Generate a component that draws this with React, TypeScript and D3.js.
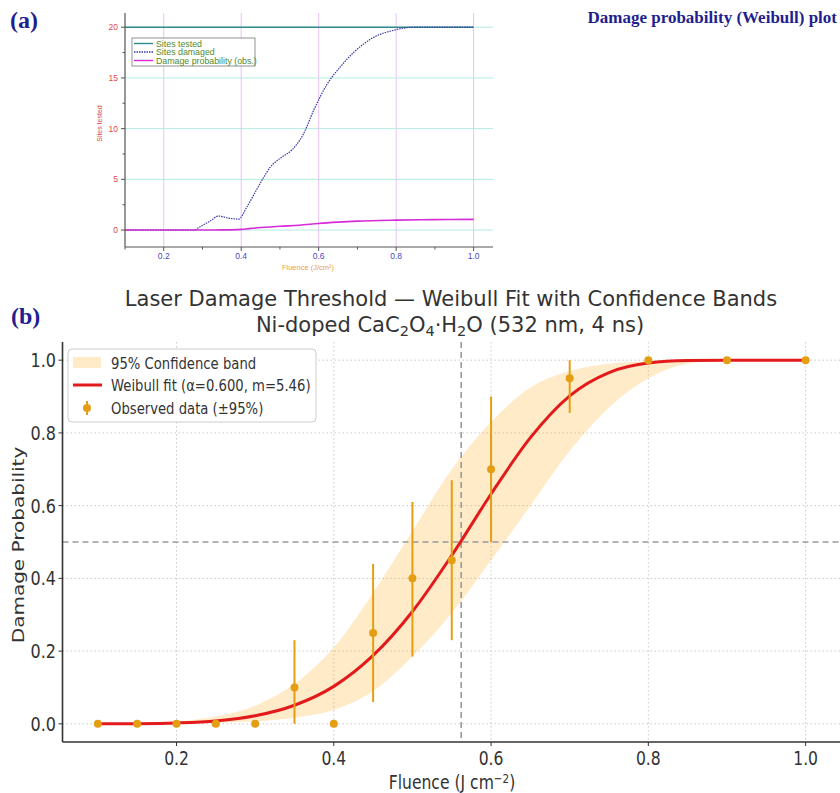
import React, { useEffect, useRef } from 'react';
import * as d3 from 'd3';

// ---------- panel (a): raw counts ----------
const testedF = [0.1, 1.0];
const testedN = [20, 20];
const damagedF = [0.1, 0.2, 0.277, 0.294, 0.32, 0.341, 0.372, 0.393, 0.415, 0.44, 0.458, 0.475, 0.505, 0.531, 0.561, 0.587, 0.622, 0.656, 0.69, 0.742, 0.794, 0.846, 0.9, 1.0];
const damagedN = [0, 0, 0, 0.33, 0.9, 1.38, 1.15, 1.08, 2.3, 4.0, 5.2, 6.2, 7.2, 7.9, 9.5, 11.8, 14.4, 16.1, 17.5, 19.0, 19.7, 20, 20, 20];
const probAF = [0.1, 0.2, 0.28, 0.35, 0.4, 0.45, 0.5, 0.55, 0.6, 0.65, 0.7, 0.8, 0.9, 1.0];
const probAV = [0, 0, 0, 0.02, 0.07, 0.25, 0.38, 0.47, 0.65, 0.78, 0.88, 0.98, 1.03, 1.05];
const aXTicks = [0.2, 0.4, 0.6, 0.8, 1.0];
const aXMinor = [0.1, 0.3, 0.5, 0.7, 0.9];
const aYTicks = [0, 5, 10, 15, 20];
const aYMinor = [2.5, 7.5, 12.5, 17.5];
const aLegend = ['Sites tested', 'Sites damaged', 'Damage probability (obs.)'];

// ---------- panel (b): Weibull fit ----------
const obsF = [0.1, 0.15, 0.2, 0.25, 0.3, 0.35, 0.4, 0.45, 0.5, 0.55, 0.6, 0.7, 0.8, 0.9, 1.0];
const obsP = [0, 0, 0, 0, 0, 0.1, 0, 0.25, 0.4, 0.45, 0.7, 0.95, 1.0, 1.0, 1.0];
const obsLo = [0, 0, 0, 0, 0, 0.0, 0, 0.06, 0.185, 0.23, 0.5, 0.855, 1.0, 1.0, 1.0];
const obsHi = [0, 0, 0, 0, 0, 0.23, 0, 0.44, 0.61, 0.67, 0.9, 1.0, 1.0, 1.0, 1.0];
const fitF = [0.1, 0.15, 0.2, 0.25, 0.3, 0.35, 0.4, 0.45, 0.5, 0.55, 0.6, 0.65, 0.7, 0.75, 0.8, 0.85, 0.9, 0.95, 1.0];
const fitP = [0.0, 0.0005, 0.0025, 0.008, 0.022, 0.051, 0.103, 0.188, 0.309, 0.463, 0.632, 0.787, 0.902, 0.966, 0.992, 0.999, 1.0, 1.0, 1.0];
const bandLo = [0, 0, 0.0005, 0.002, 0.007, 0.017, 0.038, 0.09, 0.185, 0.305, 0.45, 0.6, 0.75, 0.87, 0.95, 0.99, 0.999, 1.0, 1.0];
const bandHi = [0.0005, 0.002, 0.007, 0.02, 0.05, 0.11, 0.21, 0.36, 0.53, 0.7, 0.83, 0.925, 0.97, 0.99, 0.997, 1.0, 1.0, 1.0, 1.0];
const bXTicks = [0.2, 0.4, 0.6, 0.8, 1.0];
const bYTicks = [0, 0.2, 0.4, 0.6, 0.8, 1.0];
const thresholdF = 0.562;
const halfP = 0.5;
const bLegend = ['95% Confidence band', 'Weibull fit (α=0.600, m=5.46)', 'Observed data (±95%)'];

const SQ = 0.8; // panel (b) text is horizontally narrow in the source
const NAVY = '#1f1f8f';
const ORANGE = '#e49e14';
const RED = '#e31a1c';
const INK = '#333333';

export default function App() {
  const svgRef = useRef<SVGSVGElement>(null);

  useEffect(() => {
    const svg = d3.select(svgRef.current);
    svg.selectAll('*').remove();

    svg.append('rect').attr('width', 840).attr('height', 793).attr('fill', 'white');

    // panel tags and caption
    svg.append('text').attr('x', 10).attr('y', 28)
      .attr('font-family', 'Liberation Serif').attr('font-weight', 'bold')
      .attr('font-size', 24).attr('fill', NAVY).text('(a)');
    svg.append('text').attr('x', 11).attr('y', 324)
      .attr('font-family', 'Liberation Serif').attr('font-weight', 'bold')
      .attr('font-size', 24).attr('fill', NAVY).text('(b)');
    svg.append('text').attr('x', 837).attr('y', 23).attr('text-anchor', 'end')
      .attr('font-family', 'Liberation Serif').attr('font-weight', 'bold')
      .attr('font-size', 17).attr('fill', NAVY).text('Damage probability (Weibull) plot');

    // ================= panel (a) =================
    const ga = svg.append('g').attr('font-family', 'Liberation Sans');
    const xa = d3.scaleLinear().domain([0.1, 1.05]).range([125, 493]);
    const ya = d3.scaleLinear().domain([-1.67, 21.4]).range([247, 13]);

    // grid
    ga.selectAll('.hg').data(aYTicks).join('line')
      .attr('x1', xa(0.1)).attr('x2', xa(1.05))
      .attr('y1', d => ya(d)).attr('y2', d => ya(d))
      .attr('stroke', '#b3ece2').attr('stroke-width', 1);
    ga.selectAll('.vg').data(aXTicks).join('line')
      .attr('x1', d => xa(d)).attr('x2', d => xa(d))
      .attr('y1', ya(21.4)).attr('y2', ya(-1.67))
      .attr('stroke', '#eac2f4').attr('stroke-width', 1);

    // curves
    const lineA = (fs: number[], vs: number[]) =>
      d3.line<number>().x(i => xa(fs[i])).y(i => ya(vs[i])).curve(d3.curveMonotoneX)(d3.range(fs.length));

    ga.append('path').attr('d', lineA(testedF, testedN))
      .attr('fill', 'none').attr('stroke', '#2f8c8a').attr('stroke-width', 1.6);
    ga.append('path').attr('d', lineA(damagedF, damagedN))
      .attr('fill', 'none').attr('stroke', '#3a3aa8').attr('stroke-width', 1.2)
      .attr('stroke-dasharray', '1.5,1');
    ga.append('path').attr('d', lineA(probAF, probAV))
      .attr('fill', 'none').attr('stroke', '#d62bd6').attr('stroke-width', 1.6);

    // axes
    ga.append('line').attr('x1', xa(0.1)).attr('x2', xa(0.1)).attr('y1', ya(21.4)).attr('y2', ya(-1.67))
      .attr('stroke', '#555').attr('stroke-width', 1.2);
    ga.append('line').attr('x1', xa(0.1)).attr('x2', xa(1.05)).attr('y1', ya(-1.67)).attr('y2', ya(-1.67))
      .attr('stroke', '#555').attr('stroke-width', 1.2);
    ga.selectAll('.yt').data(aYTicks).join('line')
      .attr('x1', xa(0.1) - 4).attr('x2', xa(0.1)).attr('y1', d => ya(d)).attr('y2', d => ya(d))
      .attr('stroke', '#555');
    ga.selectAll('.ytm').data(aYMinor).join('line')
      .attr('x1', xa(0.1) - 2.5).attr('x2', xa(0.1)).attr('y1', d => ya(d)).attr('y2', d => ya(d))
      .attr('stroke', '#555');
    ga.selectAll('.xt').data(aXTicks).join('line')
      .attr('x1', d => xa(d)).attr('x2', d => xa(d)).attr('y1', ya(-1.67)).attr('y2', ya(-1.67) + 4)
      .attr('stroke', '#555');
    ga.selectAll('.xtm').data(aXMinor).join('line')
      .attr('x1', d => xa(d)).attr('x2', d => xa(d)).attr('y1', ya(-1.67)).attr('y2', ya(-1.67) + 2.5)
      .attr('stroke', '#555');

    ga.selectAll('.ytl').data(aYTicks).join('text')
      .attr('x', xa(0.1) - 7).attr('y', d => ya(d) + 3).attr('text-anchor', 'end')
      .attr('font-size', 8.5).attr('fill', '#e04a4a').text(d => String(d));
    ga.selectAll('.xtl').data(aXTicks).join('text')
      .attr('x', d => xa(d)).attr('y', 259).attr('text-anchor', 'middle')
      .attr('font-size', 8.5).attr('fill', '#4848c4').text(d => d.toFixed(1));

    ga.append('text').attr('transform', `translate(102,${ya(10.5)}) rotate(-90)`)
      .attr('text-anchor', 'middle').attr('font-size', 7).attr('fill', '#e04a4a').text('Sites tested');
    ga.append('text').attr('x', 308).attr('y', 270).attr('text-anchor', 'middle')
      .attr('font-size', 7.5).attr('fill', '#f0a040')
      .text('Fluence (J/cm²)');

    // legend (a)
    const la = ga.append('g');
    la.append('rect').attr('x', 132).attr('y', 38).attr('width', 123).attr('height', 28)
      .attr('fill', 'white').attr('stroke', '#777').attr('stroke-width', 0.8);
    const aStyles = [
      { c: '#2f8c8a', dash: null },
      { c: '#3a3aa8', dash: '1.5,1' },
      { c: '#d62bd6', dash: null },
    ];
    aLegend.forEach((t, i) => {
      const yy = 43.5 + i * 8.5;
      la.append('line').attr('x1', 134).attr('x2', 153).attr('y1', yy).attr('y2', yy)
        .attr('stroke', aStyles[i].c).attr('stroke-width', 1.4)
        .attr('stroke-dasharray', aStyles[i].dash);
      la.append('text').attr('x', 156).attr('y', yy + 3).attr('font-size', 8.8)
        .attr('fill', '#4f8a2e').text(t);
    });

    // ================= panel (b) =================
    const gb = svg.append('g').attr('font-family', 'DejaVu Sans');
    const xb = d3.scaleLinear().domain([0.055, 1.045]).range([62.5, 841]);
    const yb = d3.scaleLinear().domain([-0.05, 1.05]).range([742, 342]);
    const sqText = (x: number, y: number, size: number, anchor: string) =>
      gb.append('text').attr('transform', `translate(${x},${y}) scale(${SQ},1)`)
        .attr('text-anchor', anchor).attr('font-size', size).attr('fill', INK);

    // title
    gb.append('text').attr('x', 451).attr('y', 306).attr('text-anchor', 'middle')
      .attr('font-size', 21).attr('fill', INK)
      .text('Laser Damage Threshold — Weibull Fit with Confidence Bands');
    const t2 = gb.append('text').attr('x', 450).attr('y', 332).attr('text-anchor', 'middle')
      .attr('font-size', 21).attr('fill', INK);
    const parts: [string, boolean][] = [
      ['Ni-doped CaC', false], ['2', true], ['O', false], ['4', true], ['·H', false], ['2', true], ['O (532 nm, 4 ns)', false],
    ];
    let shifted = false;
    parts.forEach(([s, sub]) => {
      const ts = t2.append('tspan').text(s);
      if (sub) { ts.attr('font-size', 14.5).attr('dy', 4); shifted = true; }
      else if (shifted) { ts.attr('dy', -4); shifted = false; }
    });

    // grid
    gb.selectAll('.bhg').data(bYTicks).join('line')
      .attr('x1', xb(0.055)).attr('x2', 840).attr('y1', d => yb(d)).attr('y2', d => yb(d))
      .attr('stroke', '#c4c4c4').attr('stroke-width', 0.9).attr('stroke-dasharray', '1.5,2.5');
    gb.selectAll('.bvg').data(bXTicks).join('line')
      .attr('x1', d => xb(d)).attr('x2', d => xb(d)).attr('y1', yb(1.05)).attr('y2', yb(-0.05))
      .attr('stroke', '#c4c4c4').attr('stroke-width', 0.9).attr('stroke-dasharray', '1.5,2.5');

    // confidence band
    const area = d3.area<number>()
      .x(i => xb(fitF[i])).y0(i => yb(bandLo[i])).y1(i => yb(bandHi[i]))
      .curve(d3.curveMonotoneX);
    gb.append('path').attr('d', area(d3.range(fitF.length)))
      .attr('fill', '#ffa500').attr('fill-opacity', 0.22);

    // reference lines
    gb.append('line').attr('x1', xb(thresholdF)).attr('x2', xb(thresholdF))
      .attr('y1', yb(1.05)).attr('y2', yb(-0.05))
      .attr('stroke', '#9a9a9a').attr('stroke-width', 1.6).attr('stroke-dasharray', '6,4');
    gb.append('line').attr('x1', xb(0.055)).attr('x2', 840)
      .attr('y1', yb(halfP)).attr('y2', yb(halfP))
      .attr('stroke', '#9a9a9a').attr('stroke-width', 1.6).attr('stroke-dasharray', '6,4');

    // fit
    const fitLine = d3.line<number>().x(i => xb(fitF[i])).y(i => yb(fitP[i])).curve(d3.curveMonotoneX);
    gb.append('path').attr('d', fitLine(d3.range(fitF.length)))
      .attr('fill', 'none').attr('stroke', RED).attr('stroke-width', 3);

    // observed data with error bars
    gb.selectAll('.eb').data(d3.range(obsF.length)).join('line')
      .attr('x1', i => xb(obsF[i])).attr('x2', i => xb(obsF[i]))
      .attr('y1', i => yb(obsLo[i])).attr('y2', i => yb(obsHi[i]))
      .attr('stroke', ORANGE).attr('stroke-width', 2);
    gb.selectAll('.pt').data(d3.range(obsF.length)).join('circle')
      .attr('cx', i => xb(obsF[i])).attr('cy', i => yb(obsP[i])).attr('r', 4)
      .attr('fill', ORANGE);

    // spines & ticks
    gb.append('line').attr('x1', xb(0.055)).attr('x2', xb(0.055)).attr('y1', yb(1.05)).attr('y2', yb(-0.05))
      .attr('stroke', INK).attr('stroke-width', 1.6);
    gb.append('line').attr('x1', xb(0.055)).attr('x2', 840).attr('y1', yb(-0.05)).attr('y2', yb(-0.05))
      .attr('stroke', INK).attr('stroke-width', 1.6);
    gb.selectAll('.byt').data(bYTicks).join('line')
      .attr('x1', xb(0.055) - 4).attr('x2', xb(0.055)).attr('y1', d => yb(d)).attr('y2', d => yb(d))
      .attr('stroke', INK).attr('stroke-width', 1);
    gb.selectAll('.bxt').data(bXTicks).join('line')
      .attr('x1', d => xb(d)).attr('x2', d => xb(d)).attr('y1', yb(-0.05)).attr('y2', yb(-0.05) + 4)
      .attr('stroke', INK).attr('stroke-width', 1);

    bYTicks.forEach(v => sqText(56, yb(v) + 7, 20, 'end').text(v.toFixed(1)));
    bXTicks.forEach(v => sqText(xb(v), 765, 19.5, 'middle').text(v.toFixed(1)));

    const xl = sqText(452, 789, 19.5, 'middle');
    xl.append('tspan').text('Fluence (J cm');
    xl.append('tspan').attr('font-size', 13).attr('dy', -6).text('−2');
    xl.append('tspan').attr('dy', 6).text(')');
    gb.append('text').attr('transform', `translate(24,545) scale(${SQ},1) rotate(-90)`)
      .attr('text-anchor', 'middle').attr('font-size', 20).attr('fill', INK)
      .text('Damage Probability');

    // legend (b)
    const lb = gb.append('g');
    lb.append('rect').attr('x', 68).attr('y', 349).attr('width', 248).attr('height', 73).attr('rx', 4)
      .attr('fill', 'white').attr('fill-opacity', 0.85).attr('stroke', '#cccccc');
    const rows = [362.5, 385, 408];
    lb.append('rect').attr('x', 73).attr('y', rows[0] - 5.5).attr('width', 28).attr('height', 11)
      .attr('fill', '#ffa500').attr('fill-opacity', 0.22);
    lb.append('line').attr('x1', 73).attr('x2', 102).attr('y1', rows[1]).attr('y2', rows[1])
      .attr('stroke', RED).attr('stroke-width', 3);
    lb.append('line').attr('x1', 87).attr('x2', 87).attr('y1', rows[2] - 7).attr('y2', rows[2] + 7)
      .attr('stroke', ORANGE).attr('stroke-width', 2);
    lb.append('circle').attr('cx', 87).attr('cy', rows[2]).attr('r', 4).attr('fill', ORANGE);
    bLegend.forEach((t, i) => {
      lb.append('text').attr('transform', `translate(111,${rows[i] + 6}) scale(${SQ},1)`)
        .attr('font-size', 16.5).attr('fill', INK).text(t);
    });
  }, []);

  return (
    <svg
      ref={svgRef}
      width={840}
      height={793}
      style={{ position: 'absolute', left: 0, top: 0, display: 'block' }}
    />
  );
}
